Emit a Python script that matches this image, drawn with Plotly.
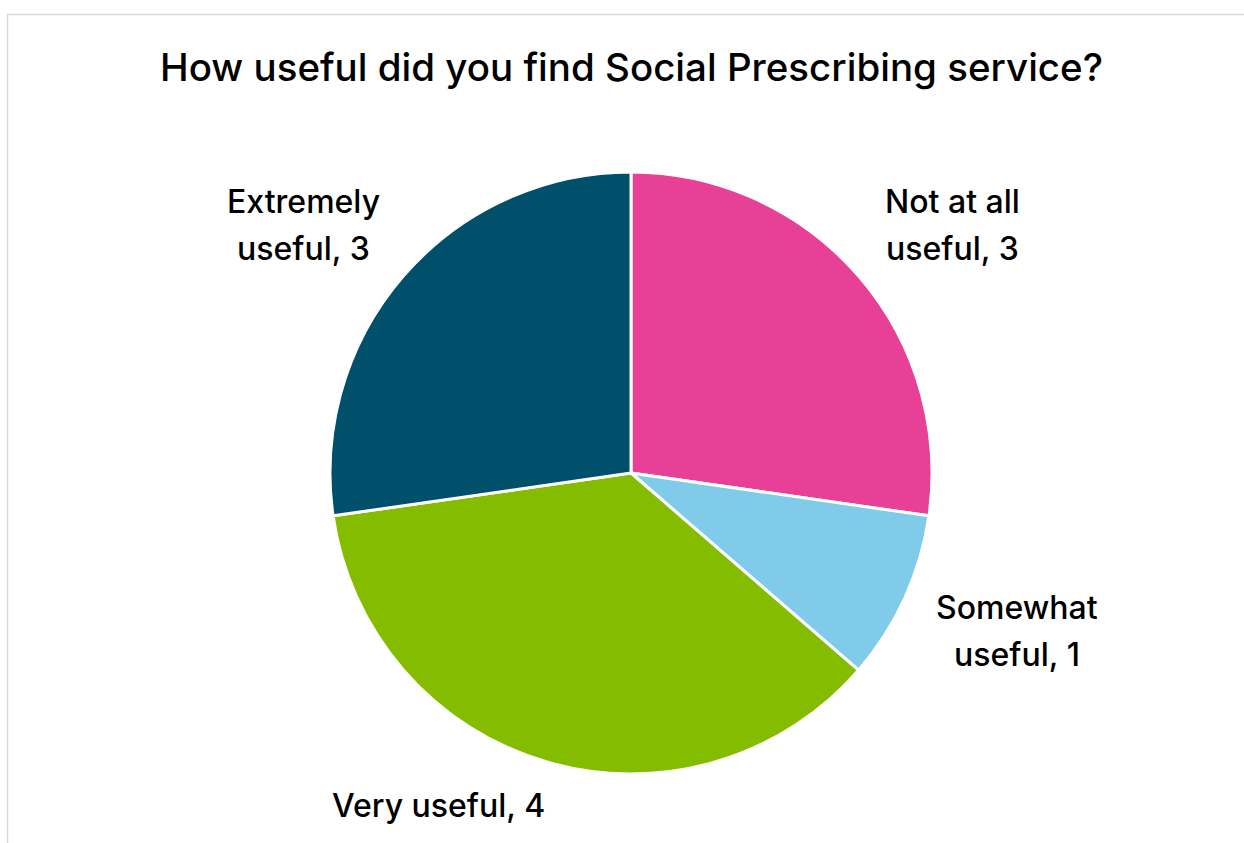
import plotly.graph_objects as go

# Survey responses
categories = ["Not at all useful", "Somewhat useful", "Very useful", "Extremely useful"]
counts = [3, 1, 4, 3]
colors = ["#E84097", "#80CBEA", "#84BD00", "#004F6B"]
title_text = "How useful did you find Social Prescribing service?"

W, H = 1244, 843
FONT = "Inter, Open Sans, sans-serif"

# Pie geometry in pixels
cx, cy, r = 631, 473, 301

fig = go.Figure(
    go.Pie(
        labels=categories,
        values=counts,
        sort=False,
        direction="clockwise",
        rotation=0,
        marker=dict(colors=colors, line=dict(color="white", width=3)),
        textinfo="none",
        hoverinfo="label+value",
        showlegend=False,
        domain=dict(
            x=[(cx - r) / W, (cx + r) / W],
            y=[(H - cy - r) / H, (H - cy + r) / H],
        ),
    )
)

# Data label placement (pixel centres) and whether to wrap before the last word
label_pos = [(953, 225), (1017, 631), (438, 805), (303, 225)]
label_wrap = [True, True, False, True]
line_gap = 47

for cat, val, (lx, ly), wrap in zip(categories, counts, label_pos, label_wrap):
    words = cat.split(" ")
    if wrap:
        lines = [" ".join(words[:-1]), f"{words[-1]}, {val}"]
    else:
        lines = [f"{cat}, {val}"]
    n = len(lines)
    for i, line in enumerate(lines):
        y_px = ly + (i - (n - 1) / 2) * line_gap
        fig.add_annotation(
            x=lx / W, y=1 - y_px / H, xref="paper", yref="paper",
            text=line, showarrow=False, xanchor="center", yanchor="middle",
            font=dict(family=FONT, size=32, color="#000000", weight=500),
        )

# Chart area border
fig.add_shape(
    type="rect", xref="paper", yref="paper",
    x0=7.5 / W, x1=1.02, y0=-0.02, y1=1 - 14.5 / H,
    line=dict(color="#D9D9D9", width=1.5), fillcolor="rgba(0,0,0,0)", layer="below",
)

fig.update_layout(
    width=W, height=H,
    margin=dict(l=0, r=0, t=0, b=0),
    paper_bgcolor="white", plot_bgcolor="white",
    title=dict(
        text=title_text, x=631.5 / W, xanchor="center",
        y=1 - 68 / H, yanchor="middle", yref="container",
        font=dict(family=FONT, size=38.5, color="#000000", weight=500),
    ),
)

fig.write_html("out.html")
